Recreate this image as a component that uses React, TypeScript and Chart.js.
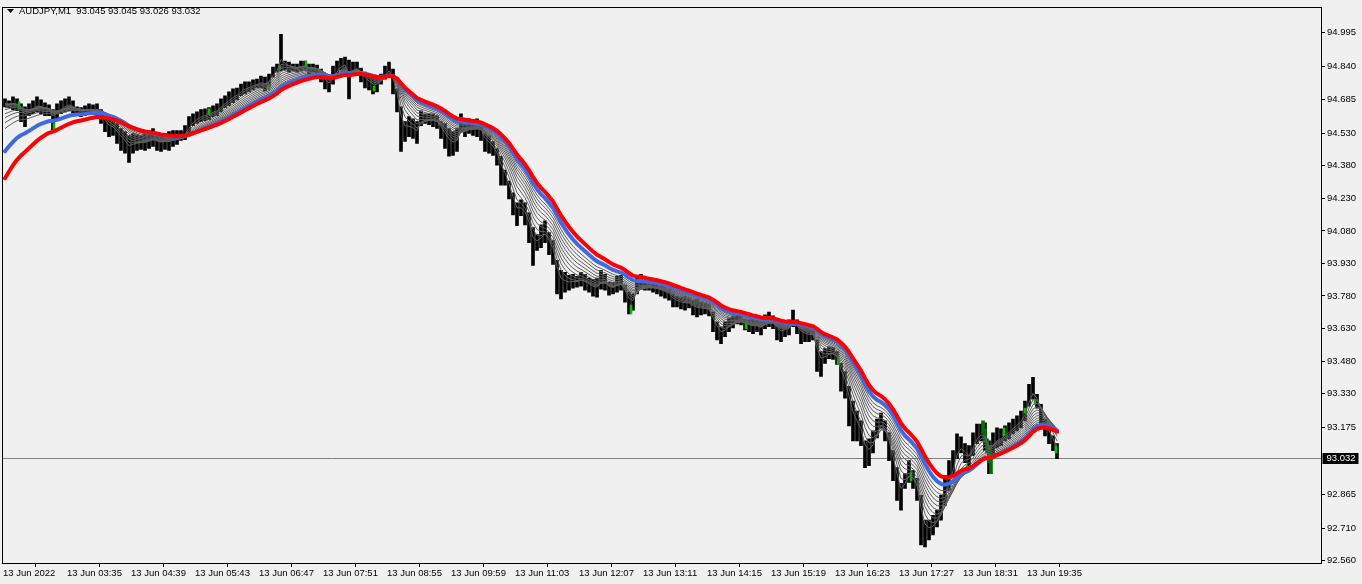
import React, { useEffect, useRef } from 'react';
import { Chart, registerables } from 'chart.js';

Chart.register(...registerables);

// ---- Data (AUDJPY M1, aggregated to 4-minute bars starting 13 Jun 02:31) ----
const barHigh = [
  94.689, 94.680, 94.698, 94.689, 94.666, 94.652, 94.666, 94.680, 94.698, 94.684,
  94.671, 94.661, 94.639, 94.666, 94.680, 94.689, 94.698, 94.680, 94.652, 94.648,
  94.657, 94.666, 94.661, 94.666, 94.639, 94.611, 94.597, 94.588, 94.575, 94.552,
  94.538, 94.520, 94.529, 94.524, 94.520, 94.529, 94.543, 94.552, 94.529, 94.524,
  94.529, 94.538, 94.543, 94.543, 94.543, 94.565, 94.607, 94.620, 94.629, 94.639,
  94.643, 94.648, 94.657, 94.666, 94.689, 94.703, 94.721, 94.735, 94.739, 94.757,
  94.767, 94.767, 94.776, 94.780, 94.794, 94.789, 94.803, 94.835, 94.849, 94.986,
  94.863, 94.858, 94.849, 94.849, 94.863, 94.863, 94.849, 94.849, 94.844, 94.826,
  94.794, 94.780, 94.840, 94.863, 94.876, 94.881, 94.867, 94.858, 94.858, 94.831,
  94.812, 94.794, 94.785, 94.789, 94.803, 94.840, 94.858, 94.826, 94.735, 94.652,
  94.584, 94.607, 94.597, 94.584, 94.634, 94.620, 94.620, 94.620, 94.611, 94.584,
  94.575, 94.552, 94.538, 94.552, 94.620, 94.593, 94.597, 94.593, 94.597, 94.584,
  94.529, 94.520, 94.492, 94.460, 94.424, 94.360, 94.310, 94.255, 94.209, 94.223,
  94.209, 94.163, 94.095, 94.063, 94.108, 94.127, 94.072, 94.035, 93.944, 93.898,
  93.889, 93.875, 93.880, 93.871, 93.889, 93.880, 93.862, 93.857, 93.862, 93.898,
  93.880, 93.843, 93.843, 93.871, 93.875, 93.830, 93.798, 93.789, 93.866, 93.880,
  93.848, 93.843, 93.839, 93.834, 93.830, 93.825, 93.811, 93.789, 93.779, 93.775,
  93.779, 93.770, 93.761, 93.766, 93.752, 93.747, 93.743, 93.706, 93.661, 93.638,
  93.661, 93.679, 93.688, 93.693, 93.688, 93.674, 93.670, 93.674, 93.670, 93.661,
  93.693, 93.706, 93.688, 93.661, 93.651, 93.661, 93.670, 93.715, 93.670, 93.647,
  93.638, 93.629, 93.624, 93.578, 93.524, 93.537, 93.546, 93.542, 93.524, 93.469,
  93.432, 93.364, 93.295, 93.249, 93.204, 93.112, 93.121, 93.158, 93.213, 93.240,
  93.204, 93.149, 93.067, 92.989, 92.916, 92.961, 93.021, 92.975, 92.939, 92.861,
  92.747, 92.747, 92.769, 92.792, 92.861, 92.952, 93.021, 93.067, 93.144, 93.131,
  93.099, 93.090, 93.149, 93.190, 93.190, 93.195, 93.112, 93.149, 93.172, 93.167,
  93.181, 93.195, 93.213, 93.227, 93.249, 93.295, 93.373, 93.405, 93.327, 93.281,
  93.213, 93.167, 93.135, 93.099,
];

const barLow = [
  94.652, 94.648, 94.639, 94.634, 94.584, 94.561, 94.611, 94.620, 94.629, 94.620,
  94.611, 94.611, 94.543, 94.597, 94.620, 94.629, 94.634, 94.620, 94.611, 94.607,
  94.611, 94.620, 94.616, 94.607, 94.575, 94.538, 94.515, 94.520, 94.483, 94.451,
  94.438, 94.396, 94.438, 94.451, 94.456, 94.451, 94.460, 94.470, 94.451, 94.447,
  94.456, 94.451, 94.470, 94.479, 94.497, 94.501, 94.529, 94.565, 94.575, 94.584,
  94.588, 94.593, 94.607, 94.611, 94.629, 94.648, 94.657, 94.671, 94.684, 94.703,
  94.712, 94.721, 94.730, 94.739, 94.739, 94.725, 94.744, 94.789, 94.812, 94.817,
  94.821, 94.812, 94.817, 94.812, 94.817, 94.821, 94.803, 94.812, 94.803, 94.767,
  94.735, 94.721, 94.757, 94.794, 94.821, 94.821, 94.689, 94.803, 94.808, 94.767,
  94.739, 94.730, 94.712, 94.721, 94.757, 94.780, 94.803, 94.712, 94.629, 94.447,
  94.492, 94.515, 94.506, 94.483, 94.565, 94.575, 94.570, 94.561, 94.552, 94.506,
  94.460, 94.424, 94.428, 94.447, 94.538, 94.515, 94.529, 94.520, 94.515, 94.497,
  94.447, 94.438, 94.428, 94.383, 94.291, 94.291, 94.227, 94.154, 94.104, 94.150,
  94.108, 94.026, 93.921, 93.990, 94.003, 94.026, 93.971, 93.926, 93.789, 93.766,
  93.798, 93.807, 93.816, 93.821, 93.825, 93.807, 93.798, 93.779, 93.775, 93.811,
  93.807, 93.784, 93.789, 93.798, 93.807, 93.752, 93.697, 93.715, 93.789, 93.811,
  93.807, 93.807, 93.798, 93.789, 93.779, 93.770, 93.761, 93.729, 93.729, 93.720,
  93.715, 93.725, 93.693, 93.683, 93.693, 93.697, 93.688, 93.615, 93.578, 93.560,
  93.592, 93.615, 93.633, 93.651, 93.647, 93.624, 93.615, 93.606, 93.615, 93.601,
  93.629, 93.638, 93.629, 93.578, 93.569, 93.592, 93.601, 93.638, 93.606, 93.560,
  93.569, 93.569, 93.578, 93.432, 93.409, 93.469, 93.491, 93.487, 93.464, 93.341,
  93.309, 93.181, 93.112, 93.112, 93.090, 92.989, 92.998, 93.057, 93.126, 93.172,
  93.112, 93.021, 92.929, 92.838, 92.792, 92.893, 92.920, 92.893, 92.838, 92.632,
  92.623, 92.655, 92.678, 92.715, 92.747, 92.815, 92.884, 92.952, 93.030, 93.057,
  93.012, 92.975, 93.044, 93.099, 93.112, 93.067, 92.961, 93.044, 93.080, 93.090,
  93.112, 93.121, 93.144, 93.158, 93.172, 93.204, 93.272, 93.304, 93.263, 93.181,
  93.135, 93.099, 93.067, 93.030,
];

const barMinutes = 4; // minutes per aggregated bar

// single green M1 bars (minute index from 02:31)
const greenMinute = [15, 50, 205, 265, 276, 302, 370, 627, 742, 834, 907, 963, 1000, 1021, 1031, 1052];
const greenHigh = [94.675, 94.575, 94.643, 94.753, 94.840, 94.863, 94.748, 93.738, 93.670, 93.501, 92.966, 92.998, 93.172, 93.263, 93.304, 93.090];
const greenLow = [94.643, 94.543, 94.616, 94.730, 94.826, 94.840, 94.725, 93.697, 93.629, 93.464, 92.929, 92.975, 93.135, 93.240, 93.281, 93.057];

const darkMinute = [979, 981, 983, 985, 987];
const darkHigh = [93.204, 93.167, 93.121, 93.076, 93.030];
const darkLow = [93.149, 93.103, 93.057, 93.012, 92.961];

// moving averages (periods in M1 bars) and their values at the first bar
const maPeriods = [8, 14, 20, 26, 32, 38, 44, 50, 56, 62, 72, 84];
const maStart = [94.666, 94.666, 94.661, 94.657, 94.648, 94.639, 94.620, 94.602, 94.579, 94.552, 94.447, 94.323];
const maColors = ['#606060', '#606060', '#606060', '#606060', '#606060', '#606060', '#606060', '#606060', '#606060', '#606060', '#4169e1', '#ff0000'];
const maWidths = [1, 1, 1, 1, 1, 1, 1, 1, 1, 1, 4, 4];

const yTicks = [94.995, 94.840, 94.685, 94.530, 94.380, 94.230, 94.080, 93.930, 93.780, 93.630, 93.480, 93.330, 93.175, 92.865, 92.710, 92.560];
const xTickMinutes = [0, 64, 128, 192, 256, 320, 384, 448, 512, 576, 640, 704, 768, 832, 896, 960, 1024];
const xTickLabels = ['13 Jun 2022', '13 Jun 03:35', '13 Jun 04:39', '13 Jun 05:43', '13 Jun 06:47', '13 Jun 07:51', '13 Jun 08:55', '13 Jun 09:59', '13 Jun 11:03', '13 Jun 12:07', '13 Jun 13:11', '13 Jun 14:15', '13 Jun 15:19', '13 Jun 16:23', '13 Jun 17:27', '13 Jun 18:31', '13 Jun 19:35'];

const symbolTitle = 'AUDJPY,M1  93.045 93.045 93.026 93.032';
const lastPrice = 93.032;

const FONT = "'Liberation Sans', Arial, sans-serif";
const FONT_SIZE = 9.5;
const BG = '#f0f0f0';

export default function App() {
  const ref = useRef<HTMLCanvasElement>(null);

  useEffect(() => {
    const mids = barHigh.map((h, i) => (h + barLow[i]) / 2);
    const maDatasets = maPeriods.map((n, j) => {
      const a = 1 - Math.pow(1 - 2 / (n + 1), barMinutes);
      let e = maStart[j];
      const pts = mids.map((m, k) => {
        if (k > 0) e = e + a * (m - e);
        return { x: barMinutes * k + 2, y: e };
      });
      return {
        type: 'line' as const,
        data: pts,
        borderColor: maColors[j],
        borderWidth: maWidths[j],
        pointRadius: 0,
        tension: 0,
        fill: false,
        borderJoinStyle: 'round' as const,
        borderCapStyle: 'round' as const,
        order: j === 11 ? 0 : j === 10 ? 1 : 2,
      };
    });

    const bars = {
      type: 'bar' as const,
      data: barHigh.map((h, k) => ({ x: barMinutes * k + 2, y: [barLow[k], h] })),
      backgroundColor: '#000000',
      borderWidth: 0,
      barThickness: 3,
      grouped: false,
      order: 50,
    };
    const greens = {
      type: 'bar' as const,
      data: greenMinute.map((m, i) => ({ x: m + 1, y: [greenLow[i], greenHigh[i]] })),
      backgroundColor: '#00c000',
      borderWidth: 0,
      barThickness: 2,
      grouped: false,
      order: 40,
    };
    const darks = {
      type: 'bar' as const,
      data: darkMinute.map((m, i) => ({ x: m + 1, y: [darkLow[i], darkHigh[i]] })),
      backgroundColor: '#007000',
      borderWidth: 0,
      barThickness: 3,
      grouped: false,
      order: 40,
    };

    const framePlugin = {
      id: 'mtFrame',
      beforeDraw(chart: any) {
        const ctx = chart.ctx;
        ctx.save();
        ctx.fillStyle = BG;
        ctx.fillRect(0, 0, chart.width, chart.height);
        ctx.restore();
      },
      beforeDatasetsDraw(chart: any) {
        const { ctx, chartArea } = chart;
        const y = Math.round(chart.scales.y.getPixelForValue(lastPrice)) + 0.5;
        ctx.save();
        ctx.strokeStyle = '#808080';
        ctx.lineWidth = 1;
        ctx.beginPath();
        ctx.moveTo(chartArea.left, y);
        ctx.lineTo(chartArea.right, y);
        ctx.stroke();
        ctx.restore();
      },
      afterDraw(chart: any) {
        const { ctx, chartArea } = chart;
        ctx.save();
        ctx.strokeStyle = '#000';
        ctx.lineWidth = 1;
        const l = Math.round(chartArea.left) - 0.5;
        const t = Math.round(chartArea.top) - 0.5;
        const r = Math.round(chartArea.right) + 0.5;
        const b = Math.round(chartArea.bottom) + 0.5;
        ctx.strokeRect(l, t, r - l, b - t);
        // last price label
        const y = Math.round(chart.scales.y.getPixelForValue(lastPrice));
        ctx.fillStyle = '#000';
        ctx.fillRect(r + 1, y - 5, 36, 11);
        ctx.fillStyle = '#fff';
        ctx.font = `${FONT_SIZE}px ${FONT}`;
        ctx.textBaseline = 'middle';
        ctx.textAlign = 'left';
        ctx.fillText(lastPrice.toFixed(3), r + 5, y + 0.5);
        // title
        ctx.fillStyle = '#000';
        ctx.beginPath();
        ctx.moveTo(7, 9);
        ctx.lineTo(14, 9);
        ctx.lineTo(10.5, 13);
        ctx.closePath();
        ctx.fill();
        ctx.fillText(symbolTitle, 19, 11);
        ctx.restore();
      },
    };

    const chart = new Chart(ref.current as HTMLCanvasElement, {
      type: 'line',
      data: { datasets: [...maDatasets, darks, greens, bars] as any },
      options: {
        animation: false,
        responsive: false,
        devicePixelRatio: 1,
        events: [],
        layout: { padding: { left: 3, top: 3, right: 0, bottom: 0 } },
        plugins: { legend: { display: false }, tooltip: { enabled: false } },
        scales: {
          x: {
            type: 'linear',
            min: 0,
            max: 1318,
            offset: false,
            afterBuildTicks: (scale: any) => {
              scale.ticks = xTickMinutes.map((v) => ({ value: v }));
            },
            afterFit: (scale: any) => {
              scale.height = 21;
            },
            grid: { display: true, drawOnChartArea: false, drawTicks: true, tickLength: 4, color: '#000' },
            border: { display: false },
            ticks: {
              autoSkip: false,
              maxRotation: 0,
              minRotation: 0,
              align: 'start',
              padding: 1,
              color: '#000',
              font: { family: FONT, size: FONT_SIZE },
              callback: (_v: any, i: number) => xTickLabels[i],
            },
          },
          y: {
            type: 'linear',
            position: 'right',
            min: 92.549,
            max: 95.109,
            afterBuildTicks: (scale: any) => {
              scale.ticks = yTicks.map((v) => ({ value: v }));
            },
            afterFit: (scale: any) => {
              scale.width = 41;
            },
            grid: { display: true, drawOnChartArea: false, drawTicks: true, tickLength: 4, color: '#000' },
            border: { display: false },
            ticks: {
              autoSkip: false,
              padding: 2,
              color: '#000',
              font: { family: FONT, size: FONT_SIZE },
              callback: (v: any) => Number(v).toFixed(3),
            },
          },
        },
      } as any,
      plugins: [framePlugin],
    });
    return () => chart.destroy();
  }, []);

  return (
    <div style={{ position: 'fixed', left: 0, top: 0, width: 1362, height: 584, background: BG }}>
      <canvas ref={ref} width={1362} height={584} style={{ display: 'block', width: 1362, height: 584 }} />
    </div>
  );
}
